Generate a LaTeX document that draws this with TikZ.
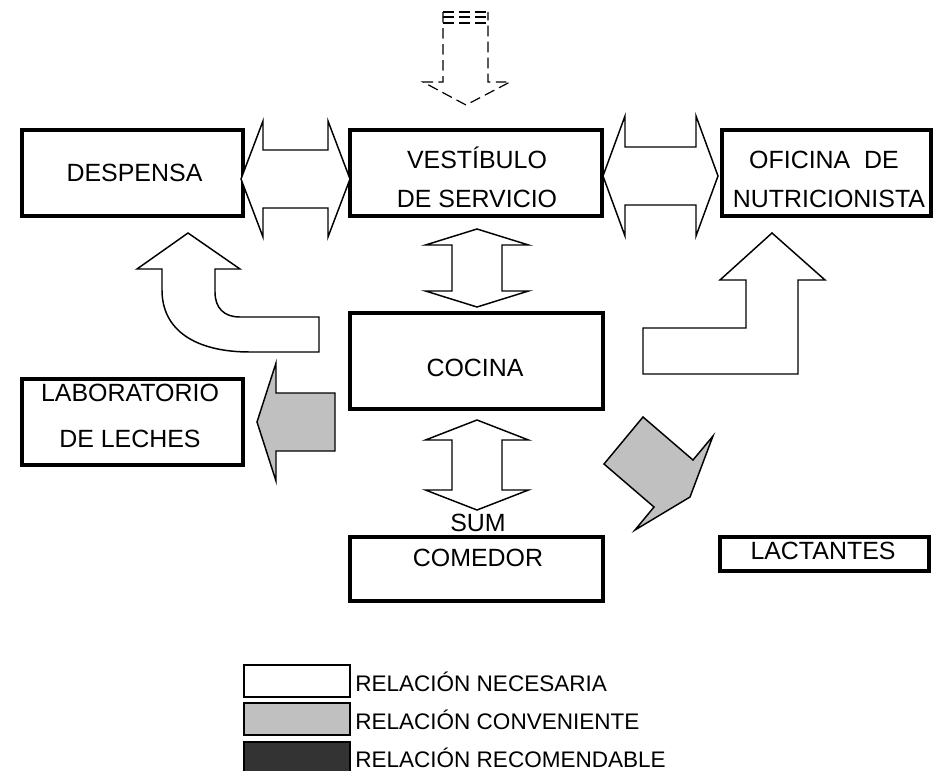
\documentclass[tikz,border=0pt]{standalone}
\usepackage{fontspec}
\setmainfont{Liberation Sans}
\usetikzlibrary{positioning}
\definecolor{convgray}{HTML}{C0C0C0}
\definecolor{recgray}{HTML}{333333}
\tikzset{
  roombox/.style={draw,rectangle,line width=3pt,inner sep=0pt},
  roomtext/.style={anchor=base,inner sep=0pt,font=\fontsize{18.7}{22}\selectfont},
  blockarrow/.style={draw,line width=1.1pt,line join=miter,fill=white},
  convarrow/.style={blockarrow,fill=convgray},
  entryarrow/.style={draw,line width=0.9pt,dash pattern=on 8pt off 4pt},
  legendbox/.style={draw,rectangle,line width=2.2pt,minimum width=79.5pt,minimum height=24pt,inner sep=0pt},
  legendtext/.style={anchor=base west,inner sep=0pt,font=\fontsize{16.9}{20}\selectfont}
}
% horizontal double block arrow: left tip, right tip, centre y, head half height
\newcommand{\hdblarrow}[4]{%
  \draw[blockarrow] (#1,#3) -- (#1+22,#3-#4) -- (#1+22,#3-29) -- (#2-22,#3-29)
    -- (#2-22,#3-#4) -- (#2,#3) -- (#2-22,#3+#4) -- (#2-22,#3+29)
    -- (#1+22,#3+29) -- (#1+22,#3+#4) -- cycle;}
% vertical double block arrow: centre x, top tip, bottom tip, head length
\newcommand{\vdblarrow}[4]{%
  \draw[blockarrow] (#1,#2) -- (#1+51.5,#2+#4) -- (#1+25,#2+#4) -- (#1+25,#3-#4)
    -- (#1+51.5,#3-#4) -- (#1,#3) -- (#1-51.5,#3-#4) -- (#1-25,#3-#4)
    -- (#1-25,#2+#4) -- (#1-51.5,#2+#4) -- cycle;}

\begin{document}
\begin{tikzpicture}[x=0.75pt,y=-0.75pt]
  \useasboundingbox (0,0) rectangle (943,771);

  % rooms
  \node[roombox,minimum width=165.75pt,minimum height=64.5pt] (despensa) at (132.5,173) {};
  \node[roombox,minimum width=189pt,minimum height=64.5pt] (vestibulo) at (476,173) {};
  \node[roombox,minimum width=156.75pt,minimum height=64.5pt] (oficina) at (826.5,173) {};
  \node[roombox,minimum width=189.75pt,minimum height=72pt] (cocina) at (476.5,361) {};
  \node[roombox,minimum width=165.75pt,minimum height=64.5pt] (laboratorio) at (132.5,422) {};
  \node[roombox,minimum width=189.75pt,minimum height=48pt] (sumcomedor) at (476.5,569) {};
  \node[roombox,minimum width=156.75pt,minimum height=25.5pt] (lactantes) at (824.5,554) {};

  \node[roomtext] (despensa-t) at (134.5,181.5) {DESPENSA};
  \node[roomtext] (vestibulo-t1) at (477,168) {VESTÍBULO};
  \node[roomtext] (vestibulo-t2) at (477,207) {DE SERVICIO};
  \node[roomtext] (oficina-t1) at (824,168) {OFICINA\ \ DE};
  \node[roomtext] (oficina-t2) at (829,207) {NUTRICIONISTA};
  \node[roomtext] (cocina-t) at (475,376) {COCINA};
  \node[roomtext] (laboratorio-t1) at (130,401) {LABORATORIO};
  \node[roomtext] (laboratorio-t2) at (130,447) {DE LECHES};
  \node[roomtext] (sumcomedor-t1) at (478,531) {SUM};
  \node[roomtext] (sumcomedor-t2) at (478,566) {COMEDOR};
  \node[roomtext] (lactantes-t) at (823,559) {LACTANTES};

  % entry
  \draw[entryarrow] (443,12) -- (443,82) -- (423,82) -- (466,105) -- (510,82) -- (488,82) -- (488,12);
  \draw[entryarrow] (443,12) -- (488,12);
  \draw[entryarrow] (443,17) -- (488,17);
  \draw[entryarrow] (443,23) -- (488,23);

  % necessary relations
  \hdblarrow{241}{350}{179}{58}
  \hdblarrow{603}{718}{176}{60}
  \vdblarrow{477}{229}{307}{16}
  \vdblarrow{477}{420}{510}{20}
  \draw[blockarrow] (188,233) -- (240,269) -- (215,269) -- (215,292)
    .. controls (215,308) and (224,317) .. (240,317) -- (319,317) -- (319,352)
    -- (250,352) .. controls (195,352) and (162,330) .. (162,290) -- (162,269)
    -- (137,269) -- cycle;
  \draw[blockarrow] (643,328) -- (746,328) -- (746,280) -- (720,280) -- (772,233)
    -- (825,280) -- (798,280) -- (798,374) -- (643,374) -- cycle;

  % convenient relations
  \draw[convarrow] (257,422) -- (276,363) -- (276,393) -- (335,393) -- (335,451)
    -- (276,451) -- (276,481) -- cycle;
  \draw[convarrow] (643,417) -- (693,460) -- (713,436) -- (690,497) -- (635,530)
    -- (654,507) -- (604,464) -- cycle;

  % legend
  \node[legendbox,fill=white] (necesaria) at (297,681) {};
  \node[legendbox,fill=convgray] (conveniente) at (297,719) {};
  \node[legendbox,fill=recgray] (recomendable) at (297,758) {};
  \node[legendtext] (necesaria-t) at (355,691) {RELACIÓN NECESARIA};
  \node[legendtext] (conveniente-t) at (355,729) {RELACIÓN CONVENIENTE};
  \node[legendtext] (recomendable-t) at (355,767) {RELACIÓN RECOMENDABLE};
\end{tikzpicture}
\end{document}
